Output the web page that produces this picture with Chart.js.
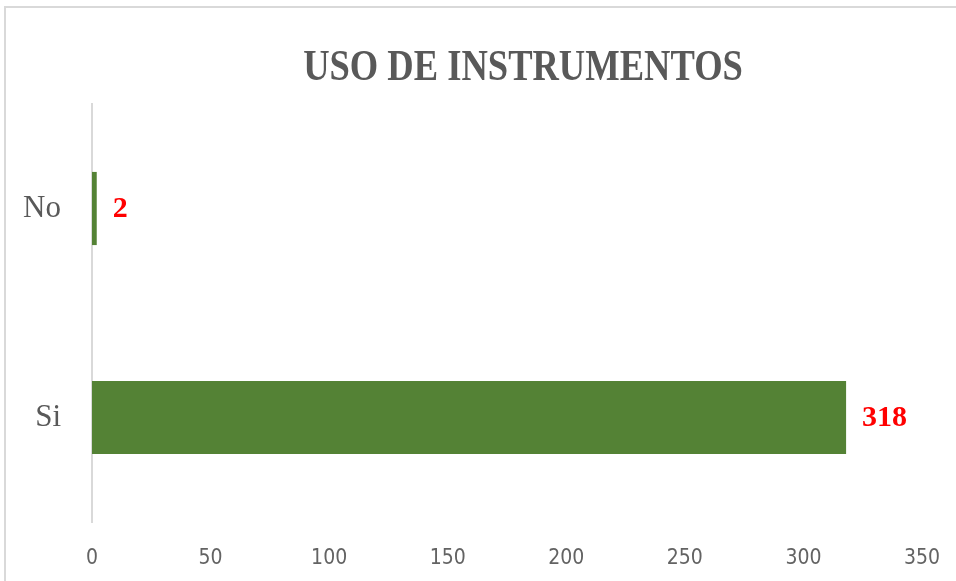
<!DOCTYPE html>
<html>
<head>
<meta charset="utf-8">
<script src="https://cdn.jsdelivr.net/npm/chart.js@4/dist/chart.umd.min.js"></script>
<style>
  html, body { margin: 0; padding: 0; background: #fff; }
  #marco { position: absolute; left: 4px; top: 6px; width: 960px; height: 590px;
           border-top: 2px solid #d9d9d9; border-left: 2px solid #d9d9d9; }
  #envoltorio { position: absolute; left: 0; top: 0; width: 956px; height: 581px; }
</style>
</head>
<body>
<div id="marco"></div>
<div id="envoltorio"><canvas id="grafico" width="956" height="581"></canvas></div>
<script>
var titulo = "USO DE INSTRUMENTOS";
var categorias = ["No", "Si"];
var valores = [2, 318];
var ticksX = [0, 50, 100, 150, 200, 250, 300, 350];

var serif = "Liberation Serif, Times New Roman, serif";
var estrecha = "Liberation Sans Narrow, Arial Narrow, DejaVu Sans Condensed, sans-serif";

// titulo y etiquetas rojas dibujados a mano
var etiquetas = {
  id: "etiquetas",
  afterDatasetsDraw: function (chart) {
    var ctx = chart.ctx;
    var meta = chart.getDatasetMeta(0);
    ctx.save();
    ctx.fillStyle = "#ff0000";
    ctx.font = "bold 30px " + serif;
    ctx.textBaseline = "middle";
    ctx.textAlign = "left";
    meta.data.forEach(function (barra, i) {
      ctx.fillText(String(valores[i]), barra.x + 16, barra.y + 1);
    });
    ctx.restore();

    ctx.save();
    ctx.fillStyle = "#595959";
    ctx.font = "bold 44px " + serif;
    ctx.textBaseline = "middle";
    ctx.textAlign = "center";
    ctx.translate(523, 69);
    ctx.scale(0.83, 1);
    ctx.fillText(titulo, 0, 0);
    ctx.restore();
  }
};

function dibujar() {
  new Chart(document.getElementById("grafico").getContext("2d"), {
    type: "bar",
    data: {
      labels: categorias,
      datasets: [{
        data: valores,
        backgroundColor: "#548235",
        borderWidth: 0,
        barPercentage: 0.7,
        categoryPercentage: 0.5
      }]
    },
    options: {
      indexAxis: "y",
      responsive: false,
      animation: false,
      layout: { padding: { top: 104, right: 32, left: 0, bottom: 0 } },
      plugins: {
        legend: { display: false },
        title: { display: false },
        tooltip: { enabled: false }
      },
      scales: {
        x: {
          min: 0,
          max: 350,
          afterBuildTicks: function (axis) {
            axis.ticks = ticksX.map(function (v) { return { value: v }; });
          },
          afterFit: function (axis) { axis.height = 59; },
          grid: { display: false },
          border: { display: false },
          ticks: {
            color: "#636363",
            padding: 16,
            maxRotation: 0,
            font: { family: estrecha, size: 21 }
          }
        },
        y: {
          afterFit: function (axis) { axis.width = 92; },
          grid: { display: false },
          border: { display: true, color: "#d9d9d9", width: 2 },
          ticks: {
            color: "#595959",
            padding: 23,
            font: { family: serif, size: 31 }
          }
        }
      }
    },
    plugins: [etiquetas]
  });
}

Promise.all([
  document.fonts.load("bold 30px Liberation Serif"),
  document.fonts.load("31px Liberation Serif"),
  document.fonts.load("21px Liberation Sans Narrow")
]).then(dibujar, dibujar);
</script>
</body>
</html>
